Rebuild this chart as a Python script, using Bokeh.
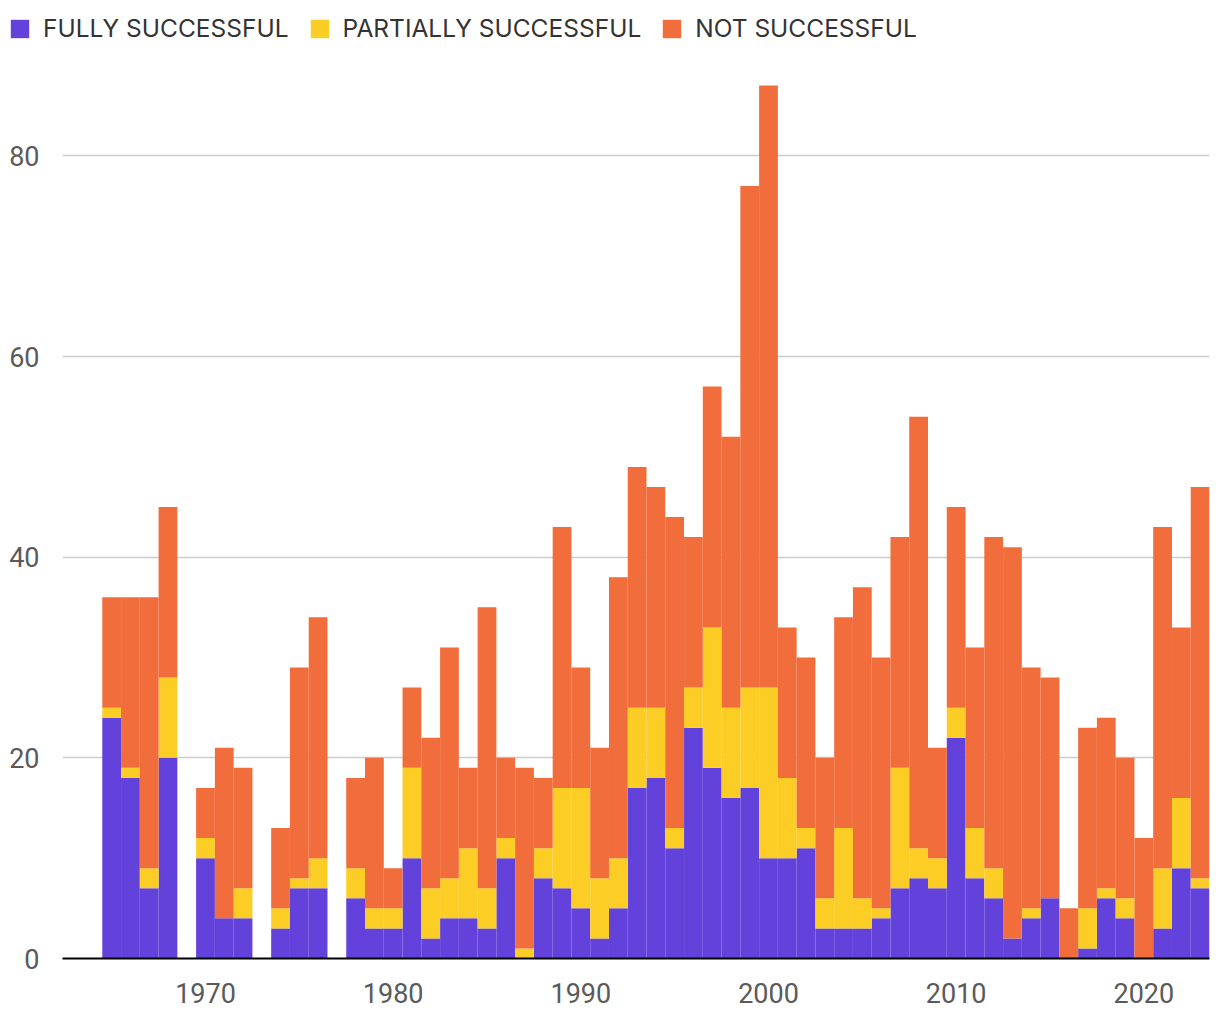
from bokeh.plotting import figure
from bokeh.layouts import column
from bokeh.models import ColumnDataSource, Legend, LegendItem, FixedTicker, Range1d
from bokeh.embed import file_html
from bokeh.resources import INLINE

years = list(range(1965, 2024))
fully = [24, 18, 7, 20, 0, 10, 4, 4, 0, 3, 7, 7, 0, 6, 3, 3, 10, 2, 4, 4,
         3, 10, 0, 8, 7, 5, 2, 5, 17, 18, 11, 23, 19, 16, 17, 10, 10, 11, 3, 3,
         3, 4, 7, 8, 7, 22, 8, 6, 2, 4, 6, 0, 1, 6, 4, 0, 3, 9, 7]
partially = [1, 1, 2, 8, 0, 2, 0, 3, 0, 2, 1, 3, 0, 3, 2, 2, 9, 5, 4, 7,
             4, 2, 1, 3, 10, 12, 6, 5, 8, 7, 2, 4, 14, 9, 10, 17, 8, 2, 3, 10,
             3, 1, 12, 3, 3, 3, 5, 3, 0, 1, 0, 0, 4, 1, 2, 0, 6, 7, 1]
not_successful = [11, 17, 27, 17, 0, 5, 17, 12, 0, 8, 21, 24, 0, 9, 15, 4, 8, 15, 23, 8,
                  28, 8, 18, 7, 26, 12, 13, 28, 24, 22, 31, 15, 24, 27, 50, 60, 15, 17, 14, 21,
                  31, 25, 23, 43, 11, 20, 18, 33, 39, 24, 22, 5, 18, 17, 14, 12, 34, 17, 39]
series = ["fully", "partially", "not_successful"]
labels = ["FULLY SUCCESSFUL", "PARTIALLY SUCCESSFUL", "NOT SUCCESSFUL"]
colors = ["#6341DB", "#FBCD25", "#F16D3B"]
x_ticks = [1970, 1980, 1990, 2000, 2010, 2020]
y_ticks = [0, 20, 40, 60, 80]

source = ColumnDataSource(dict(year=years, fully=fully, partially=partially,
                               not_successful=not_successful))

# ---- legend strip (its bars lie outside its own view; only the legend shows) ----
lg = figure(width=1211, height=50, output_backend="svg", toolbar_location=None,
            x_range=Range1d(0, 1), y_range=Range1d(0, 1),
            x_axis_location=None, y_axis_location=None,
            min_border_left=0, min_border_right=0, min_border_top=0, min_border_bottom=0)
lg.frame_align = False
lg.grid.grid_line_color = None
lg.outline_line_color = None
lg.border_fill_color = "white"
lrs = lg.vbar_stack(series, x="year", width=1.0, source=source, color=colors, line_color=None)
legend = Legend(items=[LegendItem(label=l, renderers=[r]) for l, r in zip(labels, lrs)],
                orientation="horizontal", location=(8, 7))
legend.glyph_width = 23
legend.glyph_height = 23
legend.label_standoff = 12
legend.spacing = 19
legend.padding = 0
legend.margin = 0
legend.border_line_color = None
legend.background_fill_alpha = 0
legend.label_text_font = "Inter"
legend.label_text_font_size = "24.5px"
legend.label_text_color = "#333333"
lg.add_layout(legend, "center")

# ---- main chart ----
p = figure(frame_width=1147, frame_height=908, output_backend="svg", toolbar_location=None,
           x_range=Range1d(1962.38, 2023.5), y_range=Range1d(0, 90.5),
           min_border_left=62, min_border_right=2, min_border_top=0, min_border_bottom=56)
p.frame_align = False
p.outline_line_color = None
p.background_fill_color = "white"
p.border_fill_color = "white"

p.vbar_stack(series, x="year", width=1.0, source=source, color=colors, line_color=None)

p.xgrid.grid_line_color = None
p.ygrid.grid_line_color = "#cccccc"
p.ygrid.grid_line_width = 1.5
p.ygrid.ticker = FixedTicker(ticks=y_ticks)

p.xaxis.ticker = FixedTicker(ticks=x_ticks)
p.xaxis.axis_line_color = "black"
p.xaxis.axis_line_width = 2
p.xaxis.major_tick_line_color = None
p.xaxis.minor_tick_line_color = None
p.xaxis.major_tick_out = 0
p.xaxis.major_tick_in = 0
p.xaxis.major_label_standoff = 24
p.xaxis.major_label_text_font = "Roboto"
p.xaxis.major_label_text_font_size = "27px"
p.xaxis.major_label_text_color = "#5a5a5a"

p.yaxis.ticker = FixedTicker(ticks=y_ticks)
p.yaxis.axis_line_color = None
p.yaxis.major_tick_line_color = None
p.yaxis.minor_tick_line_color = None
p.yaxis.major_tick_out = 0
p.yaxis.major_tick_in = 0
p.yaxis.major_label_standoff = 23
p.yaxis.major_label_text_font = "Roboto"
p.yaxis.major_label_text_font_size = "27px"
p.yaxis.major_label_text_color = "#5a5a5a"

layout = column(lg, p, spacing=0)
open("out.html", "w").write(file_html(layout, INLINE))
